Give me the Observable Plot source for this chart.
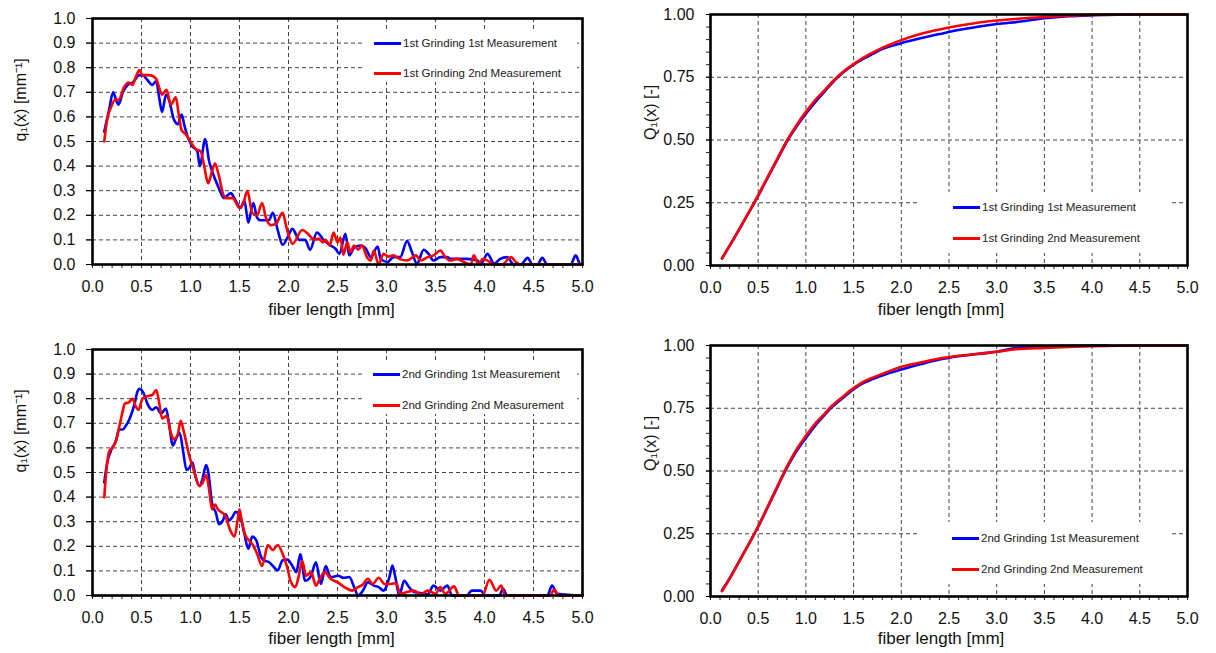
<!DOCTYPE html>
<html>
<head>
<meta charset="utf-8">
<script src="https://cdn.jsdelivr.net/npm/d3@7"></script>
<script src="https://cdn.jsdelivr.net/npm/@observablehq/plot@0.6"></script>
<style>
  body { margin: 0; background: #fff; font-family: "Liberation Sans", Arial, sans-serif; }
  #wrap { position: relative; width: 1216px; height: 653px; overflow: hidden; background: #fff; }
  .pane { position: absolute; }
  .legend { position: absolute; background: #fff; }
  .legend .row { position: absolute; display: flex; align-items: center; white-space: nowrap;
    font-size: 11.5px; color: #222; height: 14px; }
  .legend .sw { display: inline-block; width: 27px; height: 3px; margin-right: 2px; }
</style>
</head>
<body>
<div id="wrap"></div>
<script>
// ---------- tick labels ----------
const xTicks = [0, 0.5, 1, 1.5, 2, 2.5, 3, 3.5, 4, 4.5, 5];
const xMinorTicks = d3.range(0, 51).map(i => i / 10);
const qTicks = d3.range(0, 11).map(i => i / 10);
const cumTicks = [0, 0.25, 0.5, 0.75, 1];
const cumMinorTicks = d3.range(0, 21).map(i => i / 20);

const xTitle = "fiber length [mm]";
const qTitle = "q\u2081(x) [mm\u207B\u00B9]";
const cumTitle = "Q\u2081(x) [-]";

const legend1 = ["1st Grinding 1st Measurement", "1st Grinding 2nd Measurement"];
const legend2 = ["2nd Grinding 1st Measurement", "2nd Grinding 2nd Measurement"];
const seriesColors = ["#0000ff", "#ff0000"];

// ---------- 1st grinding, density q1(x) ----------
const g1m1_qx = [0.12,0.17,0.21,0.24,0.265,0.31,0.36,0.41,0.48,0.51,0.56,0.61,0.65,0.68,0.71,0.75,0.78,0.83,0.87,0.91,0.935,0.97,1.02,1.07,1.095,1.15,1.19,1.22,1.29,1.34,1.41,1.46,1.51,1.55,1.59,1.64,1.68,1.71,1.80,1.84,1.89,1.94,1.99,2.04,2.11,2.17,2.22,2.29,2.36,2.43,2.48,2.52,2.58,2.62,2.67,2.74,2.79,2.84,2.91,2.94,3.01,3.07,3.14,3.21,3.26,3.31,3.38,3.43,3.48,3.55,3.62,3.65,3.82,3.93,3.96,4.03,4.10,4.16,4.23,4.30,4.37,4.44,4.49,4.54,4.59,4.64,4.88,4.93,4.98,5.0];
const g1m1_qy = [0.54,0.63,0.70,0.67,0.65,0.70,0.73,0.74,0.77,0.77,0.75,0.73,0.745,0.68,0.62,0.69,0.67,0.59,0.57,0.61,0.57,0.52,0.48,0.46,0.40,0.51,0.42,0.38,0.31,0.27,0.29,0.26,0.23,0.26,0.17,0.25,0.19,0.18,0.18,0.21,0.14,0.08,0.11,0.145,0.10,0.10,0.06,0.13,0.10,0.077,0.064,0.043,0.125,0.037,0.068,0.077,0.064,0.03,0.073,0.023,0.01,0.03,0.03,0.095,0.05,0.003,0.06,0.043,0.016,0.03,0.03,0.023,0.023,0.016,0.0,0.043,0.003,0.023,0.03,0,0,0.027,0,0,0.027,0,0,0.037,0,0];
const g1m2_qx = [0.12,0.15,0.19,0.23,0.27,0.32,0.37,0.41,0.44,0.48,0.51,0.58,0.65,0.68,0.71,0.755,0.80,0.85,0.88,0.91,0.95,1.0,1.05,1.105,1.14,1.18,1.22,1.25,1.29,1.33,1.36,1.43,1.50,1.54,1.58,1.63,1.68,1.73,1.77,1.82,1.87,1.94,1.98,2.04,2.14,2.21,2.26,2.31,2.35,2.38,2.42,2.46,2.50,2.53,2.56,2.60,2.63,2.67,2.71,2.75,2.80,2.84,2.87,2.92,2.97,3.02,3.07,3.13,3.21,3.30,3.35,3.42,3.48,3.55,3.60,3.65,3.72,3.79,3.86,3.89,3.94,3.98,4.03,4.10,4.18,4.27,4.32,4.37,5.0];
const g1m2_qy = [0.50,0.59,0.64,0.67,0.67,0.72,0.74,0.73,0.76,0.79,0.77,0.77,0.755,0.72,0.69,0.71,0.65,0.68,0.61,0.545,0.53,0.50,0.47,0.46,0.40,0.33,0.38,0.41,0.36,0.29,0.27,0.27,0.23,0.25,0.30,0.21,0.20,0.25,0.19,0.16,0.165,0.21,0.15,0.084,0.14,0.12,0.10,0.105,0.09,0.10,0.077,0.13,0.09,0.11,0.04,0.09,0.05,0.077,0.06,0.077,0.03,0.016,0.057,0.0,0.043,0.032,0.037,0.023,0.016,0.037,0.016,0.03,0.037,0.057,0.03,0.016,0.023,0.01,0.0,0.037,0.0,0.023,0.016,0.0,0.0,0.03,0.01,0,0];

// ---------- 2nd grinding, density q1(x) ----------
const g2m1_qx = [0.12,0.15,0.19,0.24,0.27,0.31,0.34,0.38,0.43,0.46,0.48,0.53,0.56,0.61,0.65,0.70,0.75,0.78,0.82,0.85,0.89,0.925,0.96,0.99,1.02,1.05,1.095,1.12,1.16,1.18,1.22,1.26,1.29,1.33,1.36,1.39,1.43,1.46,1.50,1.55,1.59,1.63,1.67,1.72,1.75,1.80,1.85,1.89,1.94,1.99,2.04,2.08,2.12,2.17,2.23,2.28,2.33,2.38,2.43,2.51,2.56,2.62,2.67,2.71,2.76,2.81,2.87,2.92,2.97,3.03,3.06,3.09,3.13,3.18,3.23,3.28,3.35,3.42,3.48,3.55,3.62,3.67,3.82,3.87,3.96,4.01,4.15,4.19,4.23,4.64,4.69,4.74,5.0];
const g2m1_qy = [0.46,0.54,0.59,0.63,0.675,0.675,0.69,0.72,0.78,0.83,0.84,0.815,0.78,0.755,0.765,0.74,0.76,0.70,0.61,0.635,0.66,0.585,0.51,0.52,0.54,0.485,0.445,0.47,0.53,0.505,0.375,0.335,0.29,0.305,0.33,0.305,0.32,0.34,0.33,0.25,0.19,0.24,0.225,0.157,0.143,0.136,0.116,0.102,0.143,0.146,0.12,0.095,0.167,0.06,0.08,0.135,0.047,0.12,0.075,0.08,0.072,0.075,0.034,0,0.02,0.054,0.04,0.034,0.02,0.075,0.122,0.075,0,0.06,0.034,0.014,0.01,0.005,0.04,0.02,0.04,0,0,0.02,0.02,0,0,0.027,0,0,0.04,0.007,0];
const g2m2_qx = [0.12,0.14,0.17,0.20,0.245,0.27,0.30,0.33,0.37,0.41,0.44,0.47,0.51,0.56,0.61,0.65,0.68,0.71,0.755,0.80,0.83,0.87,0.90,0.935,0.99,1.04,1.09,1.12,1.16,1.19,1.22,1.25,1.28,1.33,1.36,1.40,1.45,1.48,1.50,1.52,1.56,1.63,1.68,1.73,1.79,1.84,1.89,1.94,1.99,2.02,2.07,2.105,2.14,2.18,2.23,2.28,2.32,2.37,2.43,2.50,2.57,2.65,2.71,2.76,2.81,2.86,2.92,2.98,3.04,3.10,3.14,3.21,3.28,3.35,3.42,3.50,3.55,3.60,3.69,3.74,3.98,4.05,4.12,4.17,4.21,4.67,4.71,4.76,5.0];
const g2m2_qy = [0.40,0.50,0.585,0.60,0.635,0.68,0.735,0.78,0.785,0.80,0.77,0.755,0.80,0.81,0.815,0.835,0.785,0.72,0.73,0.66,0.635,0.655,0.71,0.66,0.565,0.50,0.445,0.455,0.49,0.43,0.35,0.37,0.35,0.335,0.32,0.27,0.24,0.305,0.35,0.31,0.245,0.21,0.17,0.12,0.205,0.185,0.205,0.17,0.11,0.06,0.034,0.08,0.14,0.08,0.095,0.04,0.068,0.095,0.068,0.054,0.034,0.02,0.034,0.045,0.068,0.047,0.072,0.047,0.047,0.05,0.007,0.014,0.02,0.004,0.02,0.007,0.034,0.007,0.037,0,0,0.064,0.02,0.04,0,0,0.024,0,0];

// ---------- cumulative Q1(x) ----------
const g1m1_Qx = [0.12,0.2,0.3,0.4,0.46,0.5,0.6,0.7,0.81,0.9,1.0,1.1,1.2,1.32,1.4,1.5,1.6,1.7,1.8,1.9,2.0,2.2,2.4,2.6,2.8,3.0,3.25,3.5,3.75,4.0,4.42];
const g1m1_Qy = [0.028,0.078,0.143,0.21,0.25,0.277,0.35,0.422,0.50,0.553,0.605,0.652,0.695,0.745,0.772,0.80,0.823,0.843,0.862,0.875,0.886,0.905,0.922,0.938,0.951,0.962,0.972,0.985,0.993,0.997,1.0];
const g1m2_Qx = [0.12,0.2,0.3,0.4,0.46,0.5,0.6,0.7,0.81,0.9,1.0,1.1,1.2,1.32,1.4,1.5,1.6,1.7,1.8,1.9,2.0,2.2,2.4,2.6,2.8,3.0,3.25,3.5,3.75,4.0,4.5,5.0];
const g1m2_Qy = [0.028,0.078,0.144,0.212,0.252,0.28,0.353,0.425,0.503,0.558,0.612,0.66,0.70,0.748,0.775,0.802,0.827,0.848,0.867,0.883,0.898,0.922,0.94,0.955,0.967,0.976,0.984,0.99,0.995,0.998,1.0,1.0];
const g2m1_Qx = [0.12,0.2,0.3,0.4,0.46,0.5,0.6,0.7,0.77,0.9,1.0,1.1,1.2,1.26,1.4,1.5,1.6,1.7,1.8,1.9,2.0,2.2,2.4,2.6,2.8,3.0,3.2,3.5,3.8,4.17];
const g2m1_Qy = [0.024,0.072,0.14,0.208,0.25,0.278,0.356,0.435,0.49,0.578,0.632,0.682,0.725,0.75,0.795,0.826,0.85,0.866,0.88,0.893,0.904,0.925,0.944,0.957,0.966,0.975,0.99,0.996,0.999,1.0];
const g2m2_Qx = [0.12,0.2,0.3,0.4,0.46,0.5,0.6,0.7,0.77,0.9,1.0,1.1,1.2,1.26,1.4,1.5,1.6,1.7,1.8,1.9,2.0,2.2,2.4,2.6,2.8,3.0,3.2,3.5,4.0,4.5,5.0];
const g2m2_Qy = [0.021,0.07,0.139,0.208,0.25,0.279,0.358,0.438,0.494,0.585,0.64,0.69,0.73,0.755,0.8,0.83,0.855,0.872,0.887,0.902,0.915,0.932,0.948,0.959,0.967,0.975,0.985,0.99,0.997,1.0,1.0];

// ---------- helpers ----------
const toRows = (xs, ys) => xs.map((x, i) => ({x, y: ys[i]}));
const gridStyle = {stroke: "#444", strokeOpacity: 1, strokeWidth: 1, strokeDasharray: "4,3"};

function panel(cfg) {
  const yFmt = d3.format(cfg.yFmt);
  const marks = [
    Plot.gridX({ticks: xTicks.slice(1, -1), ...gridStyle}),
    Plot.gridY({ticks: cfg.yTicks.slice(1, -1), ...gridStyle}),
    Plot.axisX({ticks: xMinorTicks, tickSize: 4, tickFormat: () => "", label: null, stroke: "#222"}),
    Plot.axisX({ticks: xTicks, tickSize: 0, tickPadding: 16, tickFormat: d3.format(".1f"), fontSize: 16, label: null, fill: "#111"}),
    Plot.axisY({ticks: cfg.yMinor, tickSize: cfg.yTickSize, tickFormat: () => "", label: null, stroke: "#222"}),
    Plot.axisY({ticks: cfg.yTicks, tickSize: cfg.yTickSize, tickPadding: cfg.yPad, tickFormat: yFmt, fontSize: 16, label: null, fill: "#111"}),
  ];
  cfg.series.forEach((s, i) => {
    marks.push(Plot.line(toRows(s.x, s.y), {x: "x", y: "y", stroke: seriesColors[i], strokeWidth: 2.6, curve: cfg.curve}));
  });
  marks.push(Plot.frame({stroke: "#000", strokeWidth: 2.6}));
  marks.push(Plot.text([xTitle], {text: d => d, frameAnchor: "bottom", dy: cfg.xTitleDy, dx: cfg.xTitleDx, lineAnchor: "middle", fontSize: 17, fill: "#111"}));
  marks.push(Plot.text([cfg.yTitle], {text: d => d, frameAnchor: "left", dx: cfg.yTitleDx, rotate: -90, lineAnchor: "middle", fontSize: 16, fill: "#111"}));
  return Plot.plot({
    width: cfg.w, height: cfg.h,
    marginLeft: cfg.ml, marginRight: cfg.mr, marginTop: cfg.mt, marginBottom: cfg.mb,
    x: {domain: [0, 5], label: null},
    y: {domain: [0, 1], label: null},
    style: {fontFamily: '"Liberation Sans", Arial, sans-serif', fontSize: "16px", background: "#fff", overflow: "visible"},
    marks
  });
}

function place(node, left, top) {
  const d = document.createElement("div");
  d.className = "pane";
  d.style.left = left + "px"; d.style.top = top + "px";
  d.appendChild(node);
  document.getElementById("wrap").appendChild(d);
}

function legend(labels, box, sw, rowsY) {
  const L = document.createElement("div");
  L.className = "legend";
  Object.assign(L.style, {left: box[0] + "px", top: box[1] + "px", width: box[2] + "px", height: box[3] + "px"});
  labels.forEach((t, i) => {
    const r = document.createElement("div");
    r.className = "row";
    r.style.left = sw + "px";
    r.style.top = (rowsY[i] - 7) + "px";
    const s = document.createElement("span");
    s.className = "sw"; s.style.background = seriesColors[i];
    r.appendChild(s);
    r.appendChild(document.createTextNode(t));
    L.appendChild(r);
  });
  document.getElementById("wrap").appendChild(L);
}

const leftCfg = {w: 600, ml: 92, mr: 18, yTicks: qTicks, yMinor: qTicks, yFmt: ".1f", yTickSize: 6, yPad: 11, yTitle: qTitle, yTitleDx: -72, xTitleDx: -6, curve: "monotone-x"};
const rightCfg = {w: 596, ml: 90, mr: 29, yTicks: cumTicks, yMinor: cumMinorTicks, yFmt: ".2f", yTickSize: 4, yPad: 12, yTitle: cumTitle, yTitleDx: -60, xTitleDx: -8, curve: "monotone-x"};

place(panel({...leftCfg, h: 330, mt: 18, mb: 66, xTitleDy: 45,
  series: [{x: g1m1_qx, y: g1m1_qy}, {x: g1m2_qx, y: g1m2_qy}]}), 0, 0);
place(panel({...rightCfg, h: 330, mt: 14, mb: 65, xTitleDy: 44,
  series: [{x: g1m1_Qx, y: g1m1_Qy}, {x: g1m2_Qx, y: g1m2_Qy}]}), 620, 0);
place(panel({...leftCfg, h: 323, mt: 19, mb: 58, xTitleDy: 43,
  series: [{x: g2m1_qx, y: g2m1_qy}, {x: g2m2_qx, y: g2m2_qy}]}), 0, 330);
place(panel({...rightCfg, h: 323, mt: 15, mb: 57, xTitleDy: 42,
  series: [{x: g2m1_Qx, y: g2m1_Qy}, {x: g2m2_Qx, y: g2m2_Qy}]}), 620, 330);

legend(legend1, [363, 30, 214, 52], 11, [13, 43]);
legend(legend1, [919, 192, 253, 61], 34, [15, 46]);
legend(legend2, [363, 362, 214, 52], 10, [12, 43]);
legend(legend2, [919, 522, 253, 62], 33, [16, 47]);
</script>
</body>
</html>
